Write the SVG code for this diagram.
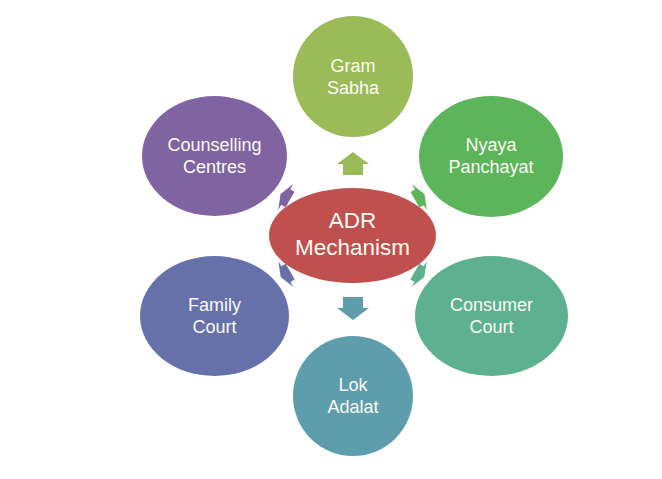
<svg xmlns="http://www.w3.org/2000/svg" width="662" height="479" viewBox="0 0 662 479">
<defs>
<path id="arr" d="M0,-10 L11,-10 L11,-16 L23,0 L11,16 L11,10 L0,10 Z"/>
<path id="arrd" d="M0,-9 L5,-9 L5,-15 L11,0 L5,15 L5,9 L0,9 Z"/>
</defs>
<style>
text{font-family:"Liberation Sans","Noto Sans",sans-serif;fill:#fbfbf2;text-anchor:middle;font-size:18px}
.big{font-size:22.5px}
</style>
<rect width="662" height="479" fill="#ffffff"/>
<g id="connectors">
<use href="#arr" transform="translate(353,175) rotate(-90)" fill="#9bbb59"/>
<use href="#arrd" transform="translate(415,199.8) rotate(-29.7)" fill="#5cb55b"/>
<use href="#arrd" transform="translate(414.8,271.6) rotate(30.1)" fill="#5db191"/>
<use href="#arr" transform="translate(353,297) rotate(90)" fill="#5e9eac"/>
<use href="#arrd" transform="translate(290.2,271.6) rotate(149.9)" fill="#6571a8"/>
<use href="#arrd" transform="translate(290.1,199.5) rotate(-150)" fill="#8064a2"/>
</g>
<g id="node-gram-sabha">
<ellipse cx="353" cy="76.5" rx="60" ry="60.5" fill="#9bbb59"/>
<text x="353" y="71.5">Gram</text>
<text x="353" y="93.5">Sabha</text>
</g>
<g id="node-nyaya-panchayat">
<ellipse cx="491" cy="156.5" rx="72" ry="60.5" fill="#5cb55b"/>
<text x="491" y="151">Nyaya</text>
<text x="491" y="173">Panchayat</text>
</g>
<g id="node-consumer-court">
<ellipse cx="491.5" cy="316" rx="76.5" ry="60" fill="#5db191"/>
<text x="491.5" y="311">Consumer</text>
<text x="491.5" y="333">Court</text>
</g>
<g id="node-lok-adalat">
<ellipse cx="353" cy="396" rx="60" ry="60" fill="#5e9eac"/>
<text x="353" y="391">Lok</text>
<text x="353" y="413">Adalat</text>
</g>
<g id="node-family-court">
<ellipse cx="214.5" cy="316" rx="74.5" ry="60" fill="#6571a8"/>
<text x="214.5" y="311">Family</text>
<text x="214.5" y="333">Court</text>
</g>
<g id="node-counselling-centres">
<ellipse cx="214.5" cy="156" rx="72.5" ry="60" fill="#8064a2"/>
<text x="214.5" y="151">Counselling</text>
<text x="214.5" y="173">Centres</text>
</g>
<g id="node-adr-mechanism">
<ellipse cx="352.5" cy="235.5" rx="83.5" ry="47.5" fill="#c0504d"/>
<text class="big" x="352.5" y="228">ADR</text>
<text class="big" x="352.5" y="255">Mechanism</text>
</g>
</svg>
